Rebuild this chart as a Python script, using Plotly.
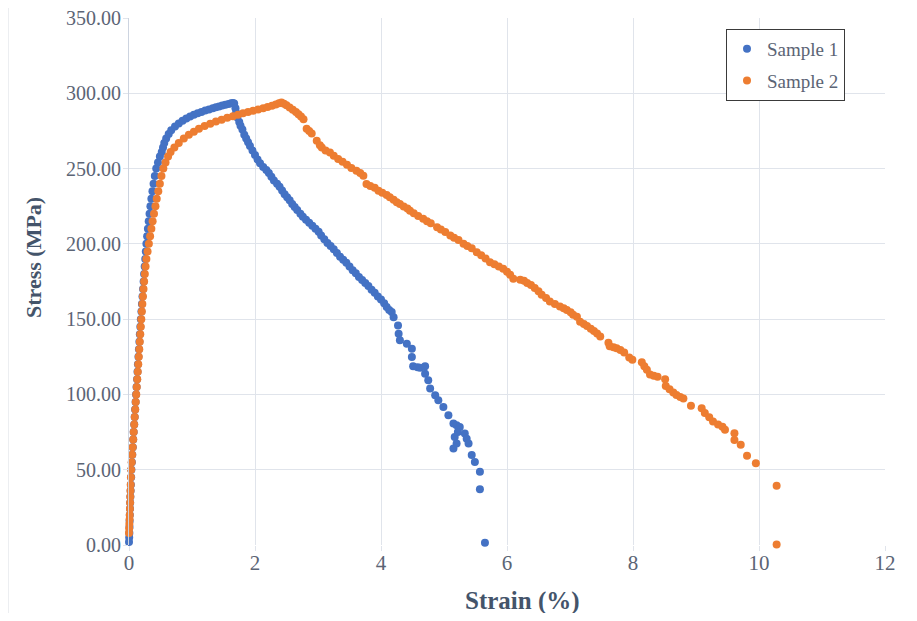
import plotly.graph_objects as go

# ---------------- data ----------------
s1_strain = [
    0.000, 0.003, 0.006, 0.008, 0.010, 0.013, 0.016, 0.019, 0.022, 0.026, 0.030, 0.034, 0.038,
    0.045, 0.052, 0.060, 0.067, 0.074, 0.083, 0.090, 0.097, 0.105, 0.112, 0.120, 0.128, 0.135,
    0.142, 0.150, 0.158, 0.165, 0.172, 0.180, 0.188,
    0.197, 0.205, 0.214, 0.223, 0.232, 0.240, 0.249, 0.258, 0.267, 0.276,
    0.288, 0.300, 0.313, 0.326, 0.340, 0.355, 0.372, 0.390, 0.410, 0.432,
    0.46, 0.49, 0.52, 0.54, 0.56, 0.59, 0.63, 0.67, 0.73, 0.79, 0.85, 0.91, 0.97, 1.03, 1.09,
    1.15, 1.21, 1.27, 1.33, 1.38, 1.43, 1.48, 1.53, 1.58, 1.62, 1.65, 1.67,
    1.69, 1.70, 1.72, 1.75, 1.77, 1.80, 1.83, 1.86, 1.89, 1.92, 1.96, 2.00, 2.04, 2.08, 2.13,
    2.18, 2.22, 2.26, 2.30, 2.35, 2.39, 2.43, 2.47, 2.51, 2.55, 2.59, 2.63, 2.67, 2.72, 2.76,
    2.81, 2.86, 2.91, 2.96, 3.01, 3.05, 3.10, 3.15, 3.20, 3.25, 3.30, 3.35, 3.40, 3.45, 3.50,
    3.55, 3.60, 3.65, 3.70, 3.75, 3.80, 3.85, 3.90, 3.95, 4.00, 4.05, 4.09, 4.13, 4.17, 4.20,
    4.27, 4.28, 4.30, 4.41, 4.49, 4.49, 4.51, 4.58, 4.62, 4.70, 4.70, 4.75, 4.78, 4.86, 4.91,
    4.99, 5.07, 5.15, 5.20, 5.25, 5.17, 5.15, 5.20, 5.22, 5.33, 5.36, 5.39, 5.44, 5.49, 5.57,
    5.57, 5.65,
]
s1_stress = [
    2, 5, 8, 12, 16, 20, 24, 28, 32, 36, 40, 45, 50,
    55, 60, 65, 70, 75, 80, 85, 90, 95, 100, 105, 110, 115,
    120, 125, 130, 135, 140, 145, 150,
    155, 160, 165, 170, 175, 180, 185, 190, 195, 200,
    205, 210, 215, 220, 225, 230, 235, 240, 245, 250,
    254, 258, 261, 264, 267, 270, 273, 275.5, 278, 280, 281.8, 283.3, 284.6, 285.7, 286.7,
    287.6, 288.5, 289.3, 290, 290.7, 291.3, 291.9, 292.4, 292.9, 293.3, 293.5, 293.2,
    290, 287, 284, 281, 278.5, 276, 272.5, 270, 267.5, 265, 262, 259, 256, 253.5, 251,
    249, 247, 244.5, 242, 240, 238, 235.5, 233, 231, 229, 226.5, 224.5, 222.5, 220, 218,
    216, 214, 212, 210, 208, 205.5, 203, 200.5, 198.5, 196.5, 194, 191.5, 189.5, 187.5, 185,
    182.5, 180.5, 178, 176, 174, 172, 169.5, 167.5, 165, 163, 160.5, 158, 156, 154.7, 151.3,
    145.8, 140.3, 135.9, 133.7, 130.4, 124.8, 118.7, 118, 117.8, 118.7, 113.8, 109.4, 103.9, 99.4, 96.1,
    91.7, 86.2, 80.7, 79.5, 78.4, 71.8, 64.1, 67.4, 75, 74.0, 70.5, 67.4, 59.7, 55.2, 48.6,
    37.1, 1.5,
]

s2_strain = [
    0.000, 0.003, 0.006, 0.009, 0.012, 0.015, 0.018, 0.021, 0.024, 0.027, 0.031, 0.035,
    0.043, 0.051, 0.059, 0.067, 0.075, 0.083, 0.091, 0.099, 0.107, 0.115, 0.123, 0.131, 0.139,
    0.147, 0.155, 0.163, 0.171, 0.179, 0.187, 0.195,
    0.204, 0.212, 0.221, 0.230, 0.240, 0.251, 0.263, 0.276, 0.295, 0.315,
    0.335, 0.355, 0.375, 0.397, 0.420, 0.440, 0.465, 0.490, 0.515, 0.545,
    0.58, 0.62, 0.66, 0.72, 0.79, 0.87, 0.95, 1.03, 1.11, 1.20, 1.29, 1.38, 1.47, 1.56, 1.65,
    1.73, 1.81, 1.89, 1.97, 2.05, 2.13, 2.20, 2.27, 2.33, 2.38, 2.42,
    2.46, 2.50, 2.55, 2.60, 2.65, 2.69, 2.73, 2.77, 2.82, 2.86, 2.90, 2.98, 3.03, 3.06, 3.12,
    3.19, 3.25, 3.32, 3.39, 3.46, 3.53, 3.61, 3.67, 3.72, 3.77, 3.83, 3.90, 3.96, 4.02, 4.09,
    4.14, 4.20, 4.25, 4.30, 4.36, 4.42, 4.46, 4.52, 4.59, 4.67, 4.73, 4.79, 4.89, 4.95, 5.02,
    5.10, 5.16, 5.23, 5.31, 5.37, 5.44, 5.52, 5.59, 5.66, 5.73, 5.80, 5.87, 5.94, 6.00, 6.05,
    6.10, 6.21, 6.27, 6.32, 6.38, 6.44, 6.50, 6.55, 6.62, 6.68, 6.76, 6.84, 6.90, 6.95, 7.01,
    7.05, 7.11, 7.16, 7.22, 7.27, 7.33, 7.38, 7.43, 7.48, 7.61, 7.63, 7.69, 7.74, 7.80, 7.86,
    7.94, 7.99, 8.14, 8.18, 8.22, 8.27, 8.33, 8.39, 8.51, 8.52, 8.58, 8.64, 8.69, 8.75, 8.80,
    8.92, 9.09, 9.14, 9.21, 9.27, 9.35, 9.42, 9.46, 9.61, 9.61, 9.71, 9.81, 9.95, 10.28, 10.28,
]
s2_stress = [
    8, 11, 14, 17, 20, 24, 28, 32, 36, 40, 45, 50,
    55, 60, 65, 70, 75, 80, 85, 90, 95, 100, 105, 110, 115,
    120, 125, 130, 135, 140, 145, 150,
    155, 160, 165, 170, 175, 180, 185, 190, 195, 200,
    205, 210, 215, 220, 225, 230, 235, 240, 245, 250,
    254, 258, 261, 264, 267, 270, 272.5, 274.5, 276.5, 278.3, 279.8, 281.2, 282.5, 283.7, 284.8,
    285.8, 286.7, 287.6, 288.4, 289.2, 290, 290.9, 291.8, 292.6, 293.3, 293.8,
    293, 292, 290.5, 289, 287.5, 286, 284.5, 282.8, 276.5, 275, 273.3, 268.5, 265.5, 264, 262,
    260.7, 258.5, 256.3, 254.5, 252.5, 250.3, 248.6, 247, 245.3, 239.7, 238.5, 237.2, 235.3, 234, 232.5,
    230.9, 229.3, 227.6, 226.5, 224.8, 223.5, 222, 220.3, 218.5, 216.6, 215, 213.7, 211, 209.5, 207.8,
    205.5, 204, 202.5, 200, 198.5, 197, 194.4, 192.5, 190.2, 187.8, 186.4, 185, 183.4, 181.5, 179.5,
    176.8, 176.1, 175.5, 174, 172.6, 170.7, 168.5, 166.2, 164, 161.8, 160, 158.4, 157.2, 156, 154.6,
    152.9, 151.6, 148.3, 146.8, 145.5, 143.6, 142.2, 140.5, 138.5, 134.3, 132, 131.3, 130.6, 129.5, 127.8,
    124.6, 123, 121.4, 118.7, 116.4, 113.3, 112.4, 111.7, 110, 105.6, 103.5, 101.3, 99.7, 98.3, 97.3,
    92.5, 90.9, 87.6, 84.8, 82, 80, 78.5, 76.5, 74.3, 69.8, 66.5, 59.2, 54.3, 39.4, 0.3,
]

series_names = ["Sample 1", "Sample 2"]
x_ticks = [0, 2, 4, 6, 8, 10, 12]
y_ticks = [0, 50, 100, 150, 200, 250, 300, 350]

# ---------------- styling ----------------
FONT = "Liberation Serif, Times New Roman, serif"
TICK_COLOR = "#5B6475"
TITLE_COLOR = "#44546A"
GRID = "#E0E4EB"
BLUE = "#4472C4"
ORANGE = "#ED7D31"

# page body has an 8px margin: plot area target (page px) x 129..885, y 18..545
OFF = 8
L, T, PW, PH = 129 - OFF, 18 - OFF, 756, 527
W, H = 901, 605


def px_x(page_x):
    return (page_x - OFF - L) / PW


def px_y(page_y):
    return (T + PH - (page_y - OFF)) / PH


fig = go.Figure()
fig.add_trace(go.Scatter(
    x=s1_strain, y=s1_stress, mode="markers", name=series_names[0],
    marker=dict(color=BLUE, size=8, line=dict(width=0)),
    cliponaxis=False, legendgroup="a",
))
fig.add_trace(go.Scatter(
    x=s2_strain, y=s2_stress, mode="markers", name=series_names[1],
    marker=dict(color=ORANGE, size=8, line=dict(width=0)),
    cliponaxis=False, legendgroup="b",
))

fig.update_layout(
    width=W, height=H,
    margin=dict(l=L, r=W - L - PW, t=T, b=H - T - PH, autoexpand=False),
    paper_bgcolor="white", plot_bgcolor="white",
    font=dict(family=FONT, color=TICK_COLOR, size=19),
    showlegend=True,
    legend=dict(
        x=px_x(845), y=px_y(29), xanchor="right", yanchor="top",
        bgcolor="white", bordercolor="#3A3A3A", borderwidth=1,
        font=dict(family=FONT, size=19, color=TICK_COLOR),
        traceorder="grouped", tracegroupgap=4, itemwidth=30,
    ),
    xaxis=dict(
        range=[0, 12], tickvals=x_ticks, ticktext=[str(v) for v in x_ticks],
        showgrid=True, gridcolor=GRID, gridwidth=1, zeroline=False,
        showline=False, ticks="outside", ticklen=5, tickcolor=GRID,
        ticklabelstandoff=-6, ticklabeloverflow="allow",
        tickfont=dict(family=FONT, size=21, color=TICK_COLOR),
    ),
    yaxis=dict(
        range=[0, 350], tickvals=y_ticks, tickformat=".2f",
        showgrid=True, gridcolor=GRID, gridwidth=1, zeroline=False,
        showline=True, linecolor="#CDD4E0", linewidth=1,
        ticks="outside", ticklen=5, tickcolor=GRID,
        ticklabelstandoff=-2, ticklabeloverflow="allow",
        tickfont=dict(family=FONT, size=20, color=TICK_COLOR),
    ),
    annotations=[
        dict(text="<b>Strain (%)</b>", xref="paper", yref="paper",
             x=px_x(522), y=px_y(601), xanchor="center", yanchor="middle",
             showarrow=False, font=dict(family=FONT, size=25, color=TITLE_COLOR)),
        dict(text="<b>Stress (MPa)</b>", xref="paper", yref="paper",
             x=px_x(33), y=px_y(258), xanchor="center", yanchor="middle",
             textangle=-90, showarrow=False,
             font=dict(family=FONT, size=22, color=TITLE_COLOR)),
    ],
    shapes=[
        dict(type="line", xref="paper", yref="paper",
             x0=px_x(8), x1=px_x(8), y0=px_y(615), y1=px_y(4),
             line=dict(color="#D9DDE3", width=1)),
    ],
)

fig.write_html("out.html")
